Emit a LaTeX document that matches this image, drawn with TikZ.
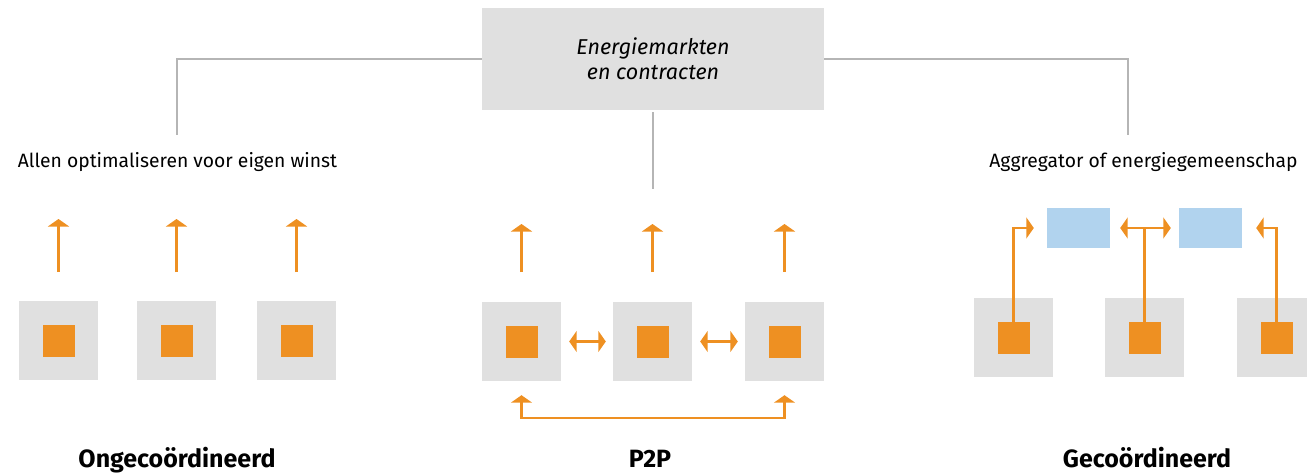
\documentclass[tikz,border=0pt]{standalone}
\usepackage{fontspec}
\setmainfont{Fira Sans}
\usetikzlibrary{arrows.meta}
\definecolor{org}{HTML}{EE9022}
\definecolor{boxgray}{HTML}{E0E0E0}
\definecolor{linegray}{HTML}{B5B5B5}
\definecolor{lblue}{HTML}{B1D3EE}
\tikzset{
  graysq/.style={fill=boxgray, draw=none, minimum size=79pt, inner sep=0pt},
  orsq/.style={fill=org, draw=none, minimum size=32pt, inner sep=0pt},
  bluebox/.style={fill=lblue, draw=none, minimum width=63pt, minimum height=40pt, inner sep=0pt},
  oline/.style={draw=org, line width=2.2pt},
  tip/.style={-{Triangle[length=7.5pt,width=21pt]}},
  twotip/.style={{Triangle[length=7.5pt,width=21pt]}-{Triangle[length=7.5pt,width=21pt]}},
  gline/.style={draw=linegray, line width=1.8pt},
  lbl/.style={font=\fontsize{19.3}{22}\selectfont, inner sep=0pt},
  head/.style={font=\bfseries\fontsize{25}{29}\selectfont, inner sep=0pt},
}
\begin{document}
\begin{tikzpicture}[x=1pt,y=-1pt]
\useasboundingbox (0,0) rectangle (1307,472);
% top box
\node[fill=boxgray, minimum width=342pt, minimum height=102pt, inner sep=0pt, align=center,
  font=\itshape\fontsize{21.5}{25}\selectfont] (top) at (653,59) {Energiemarkten\\en contracten};
\coordinate (lend) at (177,135);
\coordinate (rend) at (1128,135);
\coordinate (mtop) at (653,112);
\coordinate (mend) at (653,189);
\draw[gline] (top.west) -| (lend);
\draw[gline] (top.east) -| (rend);
\draw[gline] (mtop) -- (mend);

% labels
\node[lbl, anchor=base] (l1) at (177.5,167) {Allen optimaliseren voor eigen winst};
\node[lbl, anchor=base] (l3) at (1143.5,167) {Aggregator of energiegemeenschap};
\node[head, anchor=base] (h1) at (177,467) {Ongecoördineerd};
\node[head, anchor=base] (h2) at (650,467) {P2P};
\node[head, anchor=base] (h3) at (1147,467) {Gecoördineerd};

% left group
\foreach \i/\x in {1/58.5,2/176.5,3/296.5}{
  \node[graysq] (g\i) at (\x,340.5) {};
  \node[orsq] (o\i) at (\x,340.5) {};
  \coordinate (as\i) at (\x,272);
  \coordinate (ae\i) at (\x,219);
  \draw[oline, tip] (as\i) -- (ae\i);
}
% middle group
\foreach \i/\x in {4/521.5,5/652.5,6/784.5}{
  \node[graysq] (g\i) at (\x,341.5) {};
  \node[orsq] (o\i) at (\x,341.5) {};
  \coordinate (as\i) at (\x,272);
  \coordinate (ae\i) at (\x,224);
  \draw[oline, tip] (as\i) -- (ae\i);
}
\draw[oline, twotip, shorten <=8pt, shorten >=7pt] (g4.east) -- (g5.west);
\draw[oline, twotip, shorten <=8pt, shorten >=7pt] (g5.east) -- (g6.west);
\coordinate (b4) at ([yshift=-14pt]g4.south);
\coordinate (b6) at ([yshift=-14pt]g6.south);
\draw[oline, twotip] (b4) -- ++(0,23) -| (b6);

% right group
\node[bluebox] (c1) at (1078.5,228) {};
\node[bluebox] (c2) at (1210.5,228) {};
\foreach \i/\x in {7/1013.5,8/1144.5,9/1276.5}{
  \node[graysq] (g\i) at (\x,337.5) {};
  \node[orsq] (o\i) at (\x,338) {};
}
\coordinate (t1) at ([xshift=-13pt]c1.west);
\coordinate (t2) at ([xshift=10pt]c1.east);
\coordinate (t3) at ([xshift=-8pt]c2.west);
\coordinate (t4) at ([xshift=14pt]c2.east);
\coordinate (j8) at (o8.north |- c1.west);
\draw[oline, tip] (o7.north) |- (t1);
\draw[oline] (o8.north) -- (j8);
\draw[oline, twotip] (t2) -- (t3);
\draw[oline, tip] (o9.north) |- (t4);
\end{tikzpicture}
\end{document}
